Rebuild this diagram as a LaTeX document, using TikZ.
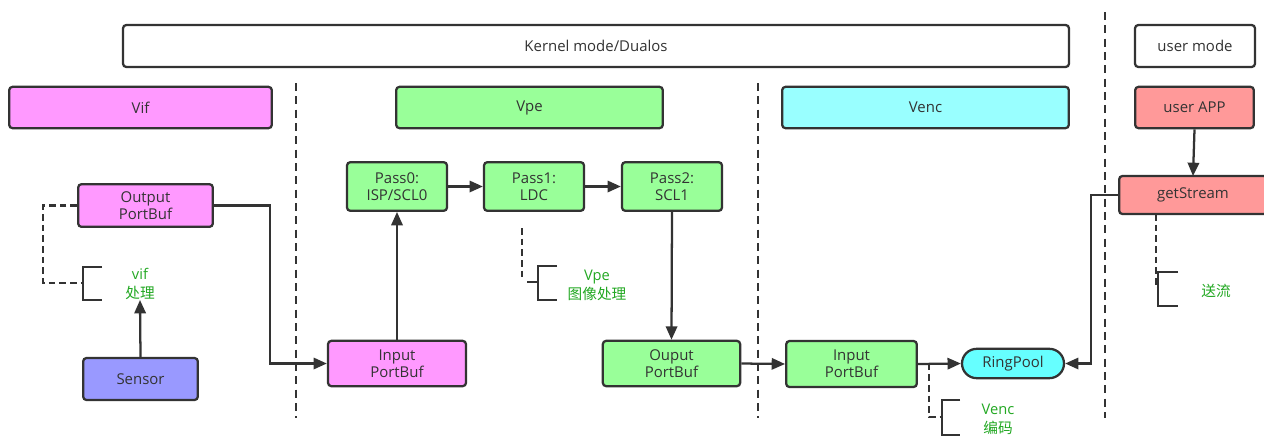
\documentclass[tikz,border=0pt]{standalone}
\usepackage{fontspec}
\setmainfont{Open Sans}
\newfontfamily\cjk{Noto Sans CJK SC}
\usetikzlibrary{arrows.meta,shapes.misc}
\definecolor{linec}{HTML}{333333}
\definecolor{pinkc}{HTML}{FF99FF}
\definecolor{greenc}{HTML}{99FF99}
\definecolor{cyanc}{HTML}{99FFFF}
\definecolor{ringc}{HTML}{66FFFF}
\definecolor{redc}{HTML}{FF9999}
\definecolor{bluec}{HTML}{9999FF}
\definecolor{txtg}{HTML}{22A822}
\begin{document}
\begin{tikzpicture}[x=0.75pt,y=-0.75pt,
  box/.style={draw=linec,line width=1.7pt,rounded corners=2.5pt,text=linec,align=center,inner sep=0pt,font=\fontsize{11.2}{13}\selectfont},
  conn/.style={draw=linec,line width=1.7pt,-{Triangle[length=10pt,width=8.5pt]}},
  plain/.style={draw=linec,line width=1.7pt},
  dsh/.style={draw=linec,line width=1.6pt,dash pattern=on 5pt off 3pt},
  sep/.style={draw=linec,line width=1.5pt,dash pattern=on 6pt off 4pt},
  note/.style={text=txtg,align=center,inner sep=0pt,font=\fontsize{11}{14}\selectfont}]
\useasboundingbox (0,0) rectangle (1264,437);
\fill[white] (0,0) rectangle (1264,437);
% separators
\coordinate (s1t) at (296,83); \coordinate (s1b) at (296,418);
\coordinate (s2t) at (758,83); \coordinate (s2b) at (758,418);
\coordinate (s3t) at (1105,12); \coordinate (s3b) at (1105,418);
\draw[sep] (s1t) -- (s1b);
\draw[sep] (s2t) -- (s2b);
\draw[sep] (s3t) -- (s3b);
% headers
\node[box,fill=white,minimum width=709.5pt,minimum height=31.5pt] (kernel) at (596,46) {Kernel mode/Dualos};
\node[box,fill=white,minimum width=90pt,minimum height=31.5pt] (umode) at (1195,46) {user mode};
\node[box,fill=pinkc,minimum width=197pt,minimum height=31pt] (vif) at (140.5,107.5) {Vif};
\node[box,fill=greenc,minimum width=200pt,minimum height=31pt] (vpe) at (529.5,107.5) {Vpe};
\node[box,fill=cyanc,minimum width=215pt,minimum height=31pt] (venc) at (925.5,107.5) {Venc};
\node[box,fill=redc,minimum width=89pt,minimum height=31pt] (uapp) at (1194.5,107.5) {user APP};
% Vif
\node[box,fill=pinkc,minimum width=101pt,minimum height=32pt] (outbuf) at (145.5,205.5) {Output\\PortBuf};
\node[box,fill=bluec,minimum width=86pt,minimum height=31.5pt] (sensor) at (140.5,379) {Sensor};
\node[note] (viftxt) at (140,284) {vif\\{\cjk 处理}};
\draw[plain] (102,267) -- (83,267) -- (83,300) -- (102,300);
\coordinate (vifbr) at (83,283);
\draw[dsh] (outbuf.west) -- (43,205.5) |- (vifbr);
\draw[conn] (sensor.north) -- (140,300);
% Vpe
\node[box,fill=pinkc,minimum width=103.5pt,minimum height=34pt] (inbuf) at (397,363.5) {Input\\PortBuf};
\node[box,fill=greenc,minimum width=75pt,minimum height=36.5pt] (pass0) at (397,186.5) {Pass0:\\ISP/SCL0};
\node[box,fill=greenc,minimum width=75pt,minimum height=36.5pt] (pass1) at (534,186.5) {Pass1:\\LDC};
\node[box,fill=greenc,minimum width=75pt,minimum height=36.5pt] (pass2) at (672,186.5) {Pass2:\\SCL1};
\node[box,fill=greenc,minimum width=103pt,minimum height=34pt] (ouput) at (671.5,363.5) {Ouput\\PortBuf};
\draw[conn] (outbuf.east) -- (270,205.5) |- (inbuf.west);
\draw[conn] (inbuf.north) -- (pass0.south);
\draw[conn] (pass0.east) -- (pass1.west);
\draw[conn] (pass1.east) -- (pass2.west);
\draw[conn] (pass2.south) -- (ouput.north);
\node[note] (vpetxt) at (597,285.5) {Vpe\\{\cjk 图像处理}};
\draw[plain] (557,266) -- (538,266) -- (538,300) -- (557,300);
\coordinate (vpebr) at (538,282);
\draw[dsh] (522,228) -- (522,281);
\draw[plain] (527,282) -- (vpebr);
% Venc
\node[box,fill=greenc,minimum width=98pt,minimum height=34.5pt] (vencin) at (851.5,364) {Input\\PortBuf};
\node[draw=linec,line width=1.7pt,fill=ringc,rounded rectangle,text=linec,inner sep=0pt,minimum width=76.5pt,minimum height=22pt,font=\fontsize{11.2}{13}\selectfont] (ring) at (1013,363.5) {RingPool};
\draw[conn] (ouput.east) -- (vencin.west);
\draw[conn] (vencin.east) -- (ring.west);
\node[note] (venctxt) at (998,419) {Venc\\{\cjk 编码}};
\draw[plain] (960,400) -- (942,400) -- (942,435) -- (960,435);
\coordinate (vencbr) at (942,417);
\draw[dsh] (929,363.5) -- (929,417) -- (vencbr);
% user
\node[box,fill=redc,minimum width=111pt,minimum height=28.5pt,anchor=west] (gets) at (1118,195) {\hspace*{0pt}};
\node[text=linec,font=\fontsize{11.2}{13}\selectfont] (getstxt) at (1193,195) {getStream};
\draw[conn] (uapp.south) -- (1193,176);
\draw[conn] (gets.west) -- (1091,195) |- (ring.east);
\node[note] (songtxt) at (1216,291) {\cjk 送流};
\draw[plain] (1178,272) -- (1158,272) -- (1158,306) -- (1178,306);
\coordinate (songbr) at (1158,288);
\draw[dsh] (1156,214) -- (1156,288) -- (songbr);
\end{tikzpicture}
\end{document}
